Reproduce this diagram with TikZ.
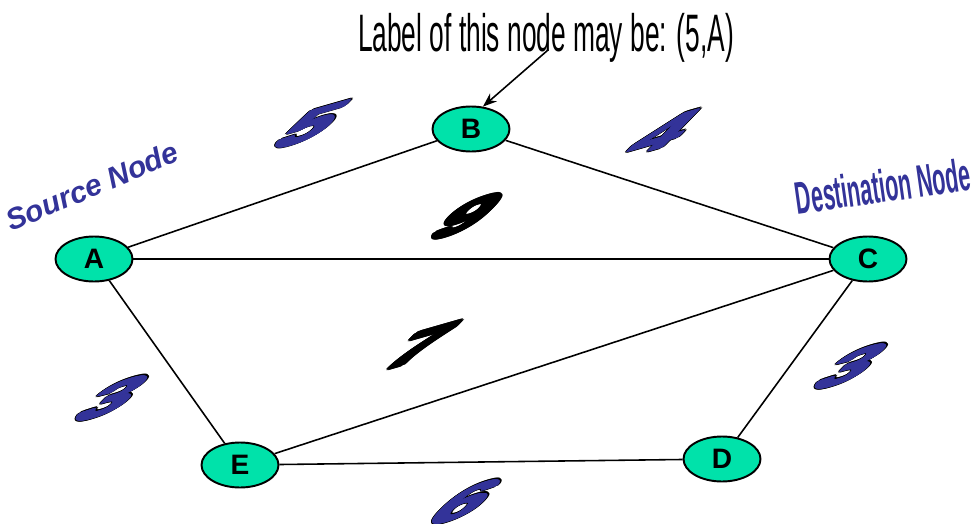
\documentclass[tikz,border=0pt]{standalone}
\usepackage{fontspec}
\setmainfont{Liberation Sans}
\usepackage{contour}
\usetikzlibrary{shapes.geometric,arrows.meta}
\definecolor{mint}{RGB}{0,226,170}
\definecolor{navy}{RGB}{51,51,153}
\newcommand{\fatnum}[1]{%
  \contourlength{1.3pt}\contour{black}{#1}}
\newcommand{\fatinner}[1]{%
  \contourlength{0.8pt}\contour{navy}{#1}}
\begin{document}
\begin{tikzpicture}[x=0.02cm,y=-0.02cm,
  gnode/.style={ellipse,draw,line width=1.1pt,fill=mint,minimum width=1.54cm,minimum height=0.9cm,inner sep=0pt,font=\fontsize{16}{16}\selectfont\bfseries},
  edge/.style={line width=0.9pt},
  numbase/.style={inner sep=0pt,font=\fontsize{36}{36}\selectfont\bfseries,rotate=16,xscale=1.5,yscale=0.6,xslant=0.7},
  numout/.style={numbase,text=black},
  numin/.style={numbase,text=navy},
  navytext/.style={text=navy,inner sep=0pt}
]
\useasboundingbox (0,0) rectangle (974,524);
% nodes
\node[gnode] (A) at (94,259) {A};
\node[gnode] (B) at (471,129) {B};
\node[gnode] (C) at (868,259) {C};
\node[gnode] (D) at (722,459) {D};
\node[gnode] (E) at (240,465) {E};
% edges
\draw[edge] (A) -- (B);
\draw[edge] (A) -- (C);
\draw[edge] (A) -- (E);
\draw[edge] (B) -- (C);
\draw[edge] (E) -- (C);
\draw[edge] (C) -- (D);
\draw[edge] (E) -- (D);
% weights
\node[numout] (w5o) at (311,126) {\fatnum{5}};
\node[numin]  (w5) at (311,126) {\fatinner{5}};
\node[numout] (w4o) at (663,134) {\fatnum{4}};
\node[numin]  (w4) at (663,134) {\fatinner{4}};
\node[numout] (w9) at (467,217) {\fatnum{9}};
\node[numout] (w7) at (420,347) {\fatnum{7}};
\node[numout] (w3ao) at (112,399) {\fatnum{3}};
\node[numin]  (w3a) at (112,399) {\fatinner{3}};
\node[numout] (w3bo) at (851,367) {\fatnum{3}};
\node[numin]  (w3b) at (851,367) {\fatinner{3}};
\node[numout] (w6o) at (465,503) {\fatnum{6}};
\node[numin]  (w6) at (465,503) {\fatinner{6}};
% texts
\node[navytext,font=\fontsize{17}{17}\selectfont\bfseries\itshape,rotate=23] (src) at (92,186) {Source Node};
\node[navytext,font=\fontsize{26}{26}\selectfont\bfseries,rotate=8,xscale=0.47] (dst) at (883,186) {Destination Node};
\node[inner sep=0pt,font=\fontsize{30}{30}\selectfont,xscale=0.5] (lbl) at (546,38) {Label of this node may be: (5,A)};
\coordinate (arrs) at (548,50);
\draw[line width=0.9pt,-{Stealth[length=8pt,width=6pt]}] (arrs) -- (B.62);
\end{tikzpicture}
\end{document}
